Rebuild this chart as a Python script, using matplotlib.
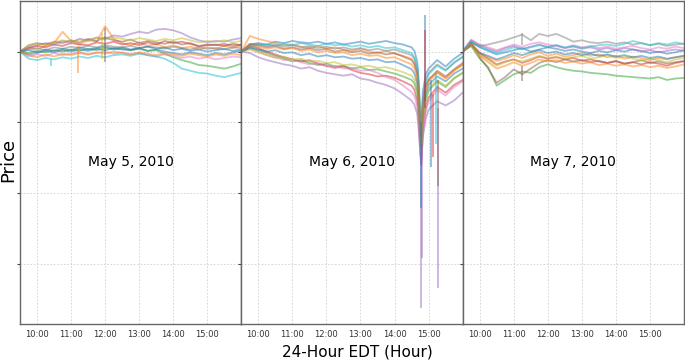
import matplotlib.pyplot as plt

days = ["May 5, 2010", "May 6, 2010", "May 7, 2010"]

# quarter-hour sample times (May 5 and May 7)
times_qh = ["09:30", "09:45", "10:00", "10:15", "10:30", "10:45", "11:00", "11:15", "11:30",
            "11:45", "12:00", "12:15", "12:30", "12:45", "13:00", "13:15", "13:30", "13:45",
            "14:00", "14:15", "14:30", "14:45", "15:00", "15:15", "15:30", "15:45", "16:00"]

# May 6 has extra samples around the flash crash
times_may6 = ["09:30", "09:45", "10:00", "10:15", "10:30", "10:45", "11:00", "11:15", "11:30",
              "11:45", "12:00", "12:15", "12:30", "12:45", "13:00", "13:15", "13:30", "13:45",
              "14:00", "14:15", "14:30", "14:35", "14:40", "14:43", "14:45", "14:47", "14:50",
              "14:55", "15:00", "15:15", "15:30", "15:45", "16:00"]

# normalized prices (open = 100)
may5_prices = [
    [100.0, 99.6, 99.8, 100.1, 99.9, 100.2, 100.0, 100.3, 100.1, 100.4, 100.2, 100.5, 100.3, 100.2, 100.4, 100.1, 100.3, 100.0, 99.8, 99.6, 99.9, 99.7, 99.5, 99.8, 99.6, 99.9, 100.1],
    [100.0, 100.6, 100.3, 100.8, 101.2, 102.8, 101.5, 101.0, 101.6, 101.4, 103.6, 101.8, 101.2, 100.9, 101.3, 100.8, 101.1, 100.6, 100.9, 100.5, 100.7, 100.3, 100.6, 100.4, 100.8, 100.5, 100.9],
    [100.0, 99.8, 100.1, 99.9, 100.2, 100.0, 100.3, 100.1, 100.4, 100.2, 100.5, 100.3, 100.4, 100.2, 100.5, 100.1, 100.2, 99.7, 99.2, 98.8, 98.5, 98.1, 98.0, 97.8, 97.6, 97.9, 98.3],
    [100.0, 100.5, 100.8, 100.6, 101.0, 100.8, 101.2, 101.0, 100.9, 101.3, 101.1, 101.4, 101.0, 101.2, 100.9, 101.3, 101.0, 101.5, 101.2, 101.4, 101.1, 100.7, 100.9, 101.0, 100.8, 101.1, 100.9],
    [100.0, 100.6, 100.9, 101.2, 101.0, 101.5, 101.3, 101.8, 101.6, 102.0, 101.8, 102.3, 102.1, 102.5, 102.8, 102.6, 103.1, 103.2, 103.0, 102.6, 102.0, 101.6, 101.3, 101.5, 101.4, 101.7, 101.9],
    [100.0, 100.9, 101.2, 101.0, 101.4, 101.2, 101.6, 101.3, 101.8, 101.5, 102.0, 101.6, 101.4, 101.7, 101.2, 101.5, 101.3, 101.1, 101.4, 101.0, 101.2, 100.8, 101.0, 100.9, 101.1, 100.8, 101.0],
    [100.0, 99.3, 99.6, 99.4, 99.8, 99.5, 99.7, 99.9, 99.6, 99.8, 100.0, 99.7, 99.9, 99.6, 99.8, 99.5, 99.3, 99.6, 99.4, 99.1, 99.3, 99.0, 99.2, 98.9, 99.1, 99.3, 99.2],
    [100.0, 100.3, 100.5, 100.2, 100.6, 100.4, 100.7, 100.5, 100.8, 100.6, 100.9, 100.7, 100.6, 100.8, 100.5, 100.7, 100.6, 100.4, 100.7, 100.5, 100.3, 100.6, 100.4, 100.5, 100.3, 100.6, 100.5],
    [100.0, 100.8, 101.1, 100.9, 101.3, 101.6, 101.4, 101.7, 101.5, 101.9, 101.7, 102.0, 101.8, 101.6, 101.9, 101.7, 101.5, 101.8, 101.6, 101.9, 101.6, 101.3, 101.5, 101.4, 101.6, 101.3, 101.5],
    [100.0, 99.0, 98.8, 99.1, 98.9, 99.2, 99.0, 99.3, 99.1, 99.4, 99.2, 99.5, 99.6, 99.4, 99.7, 99.5, 99.3, 99.0, 98.4, 97.6, 97.3, 97.0, 96.9, 96.6, 96.4, 96.7, 97.0],
    [100.0, 100.2, 99.9, 100.3, 100.1, 100.4, 100.2, 100.6, 100.3, 100.5, 100.7, 100.4, 100.6, 100.3, 100.5, 100.7, 100.4, 100.6, 100.2, 100.4, 100.1, 100.3, 100.0, 100.2, 100.4, 100.1, 100.3],
    [100.0, 99.5, 99.2, 99.6, 99.3, 99.7, 99.5, 99.8, 99.6, 99.9, 99.7, 100.0, 99.8, 99.6, 99.9, 99.7, 99.5, 99.8, 99.6, 99.4, 99.7, 99.5, 99.3, 99.6, 99.4, 99.7, 99.5],
]

may6_prices = [
    [100.0, 101.0, 101.2, 101.0, 101.4, 101.2, 101.5, 101.3, 101.2, 101.4, 101.1, 101.3, 101.0, 101.2, 101.4, 101.1, 101.3, 101.5, 101.2, 101.0, 100.6, 100.1, 98.6, 95.5, 91.5, 89.5, 94.5, 96.8, 97.6, 98.8, 97.9, 99.0, 99.8],
    [100.0, 102.2, 101.8, 101.5, 101.2, 100.9, 101.0, 100.7, 100.5, 100.8, 100.4, 100.6, 100.3, 100.1, 100.4, 100.0, 99.8, 100.1, 99.7, 99.4, 99.0, 98.4, 97.0, 94.0, 90.0, 88.0, 93.0, 95.2, 96.0, 97.1, 96.3, 97.4, 98.2],
    [100.0, 100.5, 100.2, 99.8, 99.4, 99.0, 98.6, 98.8, 98.4, 98.1, 98.3, 97.9, 98.0, 97.6, 97.8, 97.4, 97.5, 97.2, 96.9, 96.5, 96.0, 95.5, 94.2, 91.5, 88.5, 86.0, 90.5, 93.0, 94.5, 95.8, 95.0, 96.2, 97.0],
    [100.0, 100.8, 100.5, 100.0, 99.6, 99.2, 98.9, 98.6, 98.8, 98.3, 98.0, 97.7, 97.9, 97.4, 97.0, 96.8, 96.5, 96.6, 96.3, 95.8, 95.2, 94.6, 93.0, 90.0, 86.5, 84.0, 89.0, 92.0, 93.5, 95.0, 94.2, 95.3, 96.0],
    [100.0, 99.8, 99.2, 98.8, 98.5, 98.2, 98.0, 97.6, 97.8, 97.3, 97.0, 96.8, 96.6, 96.8, 96.2, 96.0, 95.6, 95.3, 94.8, 94.0, 93.1, 92.5, 91.2, 88.5, 86.0, 84.5, 88.0, 90.5, 91.8, 93.0, 92.4, 93.1, 94.2],
    [100.0, 101.1, 100.9, 100.6, 100.8, 100.4, 100.6, 100.3, 100.5, 100.2, 100.4, 100.0, 100.2, 99.9, 100.1, 99.7, 99.9, 99.6, 99.8, 99.3, 98.8, 98.2, 96.8, 93.5, 89.5, 87.5, 92.5, 95.0, 96.0, 97.3, 96.5, 97.5, 98.4],
    [100.0, 100.4, 100.0, 99.5, 99.2, 98.8, 98.9, 98.5, 98.2, 98.4, 97.9, 98.0, 97.6, 97.7, 97.3, 97.4, 97.0, 96.4, 96.0, 95.2, 94.3, 93.7, 92.2, 89.2, 86.0, 84.0, 88.5, 91.5, 93.0, 94.6, 93.8, 95.0, 95.8],
    [100.0, 100.9, 101.1, 100.8, 101.0, 100.7, 100.9, 100.6, 100.8, 100.5, 100.7, 100.4, 100.6, 100.3, 100.5, 100.2, 100.4, 100.1, 100.3, 99.9, 99.5, 99.0, 97.5, 94.5, 90.5, 88.5, 93.5, 96.0, 97.0, 98.2, 97.4, 98.4, 99.2],
    [100.0, 100.3, 99.9, 99.5, 99.1, 99.3, 98.9, 99.0, 98.6, 98.7, 98.4, 98.5, 98.1, 98.2, 97.9, 98.0, 97.7, 97.8, 97.5, 97.1, 96.6, 96.0, 94.6, 91.8, 88.0, 86.0, 91.0, 93.5, 94.8, 96.0, 95.2, 96.3, 97.0],
    [100.0, 100.7, 100.9, 101.0, 100.8, 101.1, 100.9, 101.2, 101.0, 100.8, 101.1, 100.9, 101.0, 100.7, 100.9, 100.6, 100.8, 100.5, 100.6, 100.2, 99.8, 99.2, 97.8, 94.5, 90.0, 87.0, 92.5, 95.5, 96.8, 98.0, 97.3, 98.5, 99.3],
    [100.0, 100.6, 100.3, 100.0, 100.2, 99.8, 99.9, 99.5, 99.7, 99.3, 99.5, 99.2, 99.3, 99.0, 99.1, 98.8, 98.9, 98.5, 98.6, 98.1, 97.5, 96.9, 95.5, 92.5, 88.5, 86.5, 91.5, 94.0, 95.3, 96.5, 95.8, 96.9, 97.6],
    [100.0, 100.9, 100.7, 100.4, 100.6, 100.3, 100.5, 100.1, 100.3, 99.9, 100.1, 99.8, 99.9, 99.5, 99.7, 99.4, 99.5, 99.1, 99.2, 98.7, 98.2, 97.6, 96.2, 93.2, 89.0, 87.0, 92.0, 94.5, 95.8, 97.0, 96.2, 97.3, 98.1],
]

may7_prices = [
    [100.0, 101.4, 100.6, 100.1, 99.6, 99.9, 100.2, 100.5, 100.0, 100.3, 100.6, 100.4, 100.1, 100.3, 100.0, 99.8, 100.1, 99.9, 100.2, 100.0, 100.3, 100.1, 99.8, 100.0, 99.7, 99.9, 100.2],
    [100.0, 101.2, 99.9, 99.2, 98.7, 99.0, 99.5, 99.1, 99.6, 99.9, 99.4, 99.7, 99.3, 99.5, 99.8, 99.4, 99.6, 99.2, 99.4, 99.0, 99.3, 99.1, 98.8, 99.1, 98.9, 99.2, 99.4],
    [100.0, 100.8, 99.0, 97.8, 95.2, 96.0, 96.8, 97.2, 97.0, 97.8, 98.2, 97.8, 97.5, 97.3, 97.2, 97.0, 96.9, 96.8, 96.6, 96.5, 96.4, 96.3, 96.2, 96.4, 96.0, 96.2, 96.3],
    [100.0, 101.0, 99.7, 99.0, 98.2, 98.6, 98.9, 98.4, 98.8, 99.3, 99.0, 99.2, 98.9, 99.1, 98.7, 98.9, 98.6, 98.4, 98.7, 98.3, 98.5, 98.2, 98.5, 98.3, 98.0, 98.4, 98.6],
    [100.0, 101.6, 100.9, 100.4, 100.0, 100.5, 100.8, 100.4, 100.7, 101.0, 100.6, 100.9, 100.5, 100.7, 100.4, 100.6, 100.3, 100.5, 100.2, 100.5, 100.3, 100.0, 100.2, 99.9, 100.1, 100.3, 100.1],
    [100.0, 101.3, 99.2, 97.6, 95.6, 96.4, 97.5, 96.8, 97.6, 98.4, 98.8, 98.5, 98.9, 98.6, 98.8, 98.5, 98.7, 98.4, 98.6, 98.3, 98.5, 98.8, 98.4, 98.6, 98.3, 98.5, 98.7],
    [100.0, 101.7, 101.0, 100.6, 100.2, 100.6, 101.0, 100.7, 101.1, 101.3, 101.0, 100.8, 100.5, 100.9, 100.6, 100.8, 100.5, 100.7, 100.4, 100.6, 100.8, 100.5, 100.3, 100.6, 100.4, 100.7, 100.5],
    [100.0, 101.2, 100.8, 101.0, 101.3, 101.6, 102.0, 102.4, 101.6, 102.5, 102.2, 102.5, 102.0, 101.4, 101.6, 101.3, 101.2, 101.4, 101.1, 101.3, 101.0, 101.2, 100.9, 101.1, 100.8, 101.0, 101.1],
    [100.0, 100.9, 99.5, 98.8, 98.0, 98.5, 98.9, 98.6, 99.0, 99.4, 99.1, 99.3, 99.0, 99.2, 99.4, 99.0, 99.2, 99.5, 99.1, 99.3, 99.0, 98.7, 99.0, 98.8, 98.5, 98.9, 99.1],
    [100.0, 101.5, 100.7, 100.2, 99.8, 100.2, 100.6, 100.3, 100.6, 100.9, 100.7, 100.9, 100.6, 100.8, 100.5, 100.7, 100.9, 101.0, 100.8, 101.1, 101.5, 101.2, 100.9, 101.2, 101.0, 101.3, 101.1],
    [100.0, 100.9, 99.8, 99.4, 98.9, 99.3, 99.8, 99.5, 99.9, 100.2, 99.8, 100.0, 99.6, 99.8, 99.5, 99.7, 99.4, 99.6, 99.3, 99.5, 99.2, 99.4, 99.1, 99.3, 99.0, 99.2, 99.4],
    [100.0, 101.0, 99.4, 98.5, 97.6, 98.0, 98.5, 98.0, 98.4, 98.9, 98.6, 98.8, 98.4, 98.6, 98.3, 98.5, 98.1, 98.3, 98.0, 98.2, 97.9, 98.1, 97.8, 98.0, 97.7, 97.9, 98.2],
]

# single-trade prints: (series index, time, low, high)
may5_spikes = [(1, "11:12", 97.0, 100.8), (5, "12:00", 98.6, 103.4), (9, "10:25", 97.9, 99.0), (8, "11:55", 99.0, 102.6)]
may6_spikes = [(4, "14:46", 63.8, 86.0), (4, "14:49", 70.9, 87.0), (4, "15:17", 66.6, 92.0),
               (0, "14:46", 78.0, 90.0), (0, "15:05", 83.7, 96.0), (3, "15:07", 85.1, 94.0),
               (5, "15:16", 81.1, 96.0), (9, "15:13", 87.0, 97.0), (0, "14:54", 93.0, 105.1),
               (3, "14:54", 92.0, 103.0)]
may7_spikes = [(7, "11:15", 101.0, 102.6), (5, "11:15", 95.9, 98.0)]

hour_ticks = ["10:00", "11:00", "12:00", "13:00", "14:00", "15:00"]


def to_hours(t):
    h, m = t.split(":")
    return int(h) + int(m) / 60


panels = [(times_qh, may5_prices, may5_spikes),
          (times_may6, may6_prices, may6_spikes),
          (times_qh, may7_prices, may7_spikes)]

fig = plt.figure(figsize=(6.85, 3.6), dpi=100)
axes = fig.subplots(1, 3, sharey=True)
fig.subplots_adjust(left=0.0292, right=0.9985, bottom=0.1, top=0.998, wspace=0)

for ax, day, (times, prices, spikes) in zip(axes, days, panels):
    hrs = [to_hours(t) for t in times]
    for vals in prices:
        ax.plot(hrs, vals, lw=1.3, alpha=0.5)
    for idx, t, lo, hi in spikes:
        ax.vlines(to_hours(t), lo, hi, colors="C%d" % (idx % 10), lw=1.3, alpha=0.5)
    ax.text(0.5, 0.5, day, transform=ax.transAxes, ha="center", va="center", fontsize=10)
    ax.set_xlim(9.5, 16)
    ax.set_ylim(61.56, 107.18)
    ax.set_xticks([to_hours(t) for t in hour_ticks])
    ax.set_xticklabels(hour_ticks, fontsize=6, color="#333333")
    ax.set_yticks([70, 80, 90, 100])
    ax.tick_params(axis="y", labelleft=False, length=2, color="#444444")
    ax.tick_params(axis="x", length=0, pad=4)
    ax.grid(True, ls=(0, (2, 2)), color="#d0d0d0", lw=0.6)
    for sp in ax.spines.values():
        sp.set_color("#666666")
        sp.set_linewidth(1)

fig.text(0.012, 0.556, "Price", rotation=90, ha="center", va="center", fontsize=13)
fig.text(0.521, 0.022, "24-Hour EDT (Hour)", ha="center", va="center", fontsize=11)

fig.savefig("out.png", dpi=100)
